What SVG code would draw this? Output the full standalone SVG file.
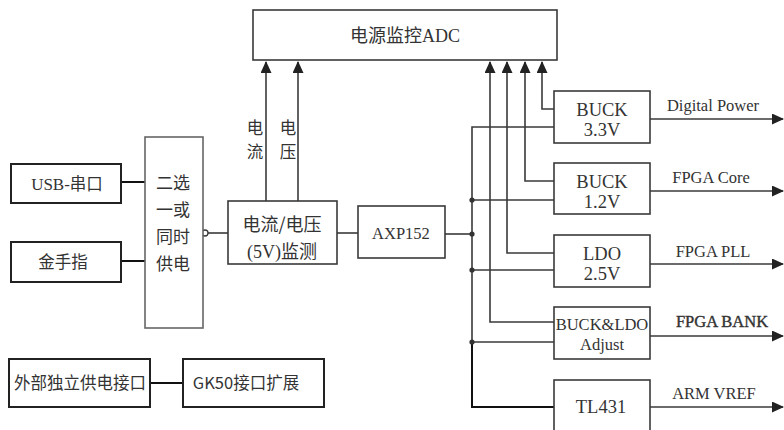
<svg xmlns="http://www.w3.org/2000/svg" width="784" height="430" viewBox="0 0 784 430">
<style>
.box{fill:#fff;stroke:#3a3a3a;stroke-width:1.6}
.gbox{fill:#fff;stroke:#666;stroke-width:1.6}
.kbox{fill:#fff;stroke:#222;stroke-width:2}
.ln{fill:none;stroke:#3a3a3a;stroke-width:1.6}
.kln{fill:none;stroke:#111;stroke-width:2}
.cn{font-family:"Noto Sans CJK SC","Noto Sans",sans-serif;font-size:16.5px;fill:#333;text-anchor:middle}
.en{font-family:"Liberation Serif","Times New Roman",serif;font-size:18.5px;fill:#333;text-anchor:middle}
.lab{font-family:"Liberation Serif","Times New Roman",serif;font-size:16.5px;fill:#333;text-anchor:middle}
.ser{font-family:"Liberation Serif","Times New Roman",serif}
.dot{fill:#333}
</style>
<defs>
<marker id="ah" viewBox="0 0 12 11" refX="11" refY="5.5" markerWidth="12" markerHeight="11" markerUnits="userSpaceOnUse" orient="auto">
<path d="M0,0 L12,5.5 L0,11 Z" fill="#222"/>
</marker>
</defs>

<g id="connectors">
<line class="kln" x1="121" y1="182" x2="145" y2="182"/>
<line class="kln" x1="121" y1="261" x2="145" y2="261"/>
<line class="kln" x1="150" y1="383" x2="183" y2="383"/>
<line class="ln" x1="208" y1="233" x2="228" y2="233"/>
<circle cx="205" cy="233" r="3" fill="#fff" stroke="#3a3a3a" stroke-width="1.3"/>
<line class="ln" x1="337" y1="233" x2="358" y2="233"/>
<line class="ln" x1="445" y1="234" x2="472" y2="234"/>
<line class="ln" x1="266" y1="201" x2="266" y2="62" marker-end="url(#ah)"/>
<line class="ln" x1="298" y1="201" x2="298" y2="62" marker-end="url(#ah)"/>
<path class="ln" d="M554,127 H472 V342"/>
<path class="kln" d="M472,342 V407 H554"/>
<line class="ln" x1="472" y1="200" x2="554" y2="200"/>
<line class="ln" x1="472" y1="270" x2="554" y2="270"/>
<line class="ln" x1="472" y1="342" x2="554" y2="342"/>
<circle class="dot" cx="472" cy="200" r="2.6"/>
<circle class="dot" cx="472" cy="234" r="2.6"/>
<circle class="dot" cx="472" cy="270" r="2.6"/>
<circle class="dot" cx="472" cy="342" r="2.6"/>
<path class="ln" d="M554,109 H542 V62" marker-end="url(#ah)"/>
<path class="ln" d="M554,181 H525 V62" marker-end="url(#ah)"/>
<path class="ln" d="M554,253 H507 V62" marker-end="url(#ah)"/>
<path class="ln" d="M554,322 H490 V62" marker-end="url(#ah)"/>
<line class="ln" x1="650" y1="119" x2="783" y2="119" marker-end="url(#ah)"/>
<line class="ln" x1="650" y1="191" x2="783" y2="191" marker-end="url(#ah)"/>
<line class="ln" x1="650" y1="264" x2="783" y2="264" marker-end="url(#ah)"/>
<line class="ln" x1="650" y1="336" x2="783" y2="336" marker-end="url(#ah)"/>
<line class="ln" x1="650" y1="407" x2="783" y2="407" marker-end="url(#ah)"/>
<text class="lab" x="713" y="111">Digital Power</text>
<text class="lab" x="711" y="183">FPGA Core</text>
<text class="lab" x="713" y="257">FPGA PLL</text>
<text class="lab" x="722" y="327" style="stroke:#333;stroke-width:0.4">FPGA BANK</text>
<text class="lab" x="714" y="399">ARM VREF</text>
<text class="cn" x="255" y="134">电</text>
<text class="cn" x="255" y="158">流</text>
<text class="cn" x="288" y="134">电</text>
<text class="cn" x="288" y="158">压</text>
</g>

<g id="adc">
<rect class="box" x="253" y="10" width="304" height="50"/>
<text x="405" y="42" class="cn" style="font-size:18px"><tspan>电源监控</tspan><tspan class="ser">ADC</tspan></text>
</g>

<g id="usb">
<rect class="kbox" x="11" y="164" width="110" height="39"/>
<text x="67" y="190" class="cn"><tspan class="ser" style="font-size:17px">USB-</tspan><tspan>串口</tspan></text>
</g>

<g id="goldfinger">
<rect class="kbox" x="11" y="242" width="110" height="40"/>
<text x="63" y="268" class="cn">金手指</text>
</g>

<g id="selector">
<rect class="gbox" x="145" y="137" width="58" height="191"/>
<text x="173" y="189" class="cn" style="font-size:17px">二选</text>
<text x="173" y="216" class="cn" style="font-size:17px">一或</text>
<text x="173" y="243" class="cn" style="font-size:17px">同时</text>
<text x="173" y="270" class="cn" style="font-size:17px">供电</text>
</g>

<g id="monitor">
<rect class="box" x="228" y="201" width="109" height="63"/>
<text x="282" y="231" class="cn" style="font-size:18px">电流/电压</text>
<text x="282" y="258" class="cn" style="font-size:18px"><tspan class="ser">(5V)</tspan><tspan>监测</tspan></text>
</g>

<g id="axp152">
<rect class="box" x="358" y="206" width="87" height="52"/>
<text x="401" y="239" class="en" style="font-size:16.5px">AXP152</text>
</g>

<g id="buck33">
<rect class="box" x="554" y="91" width="96" height="52"/>
<text x="602" y="116" class="en">BUCK</text>
<text x="602" y="136" class="en">3.3V</text>
</g>

<g id="buck12">
<rect class="box" x="554" y="163" width="96" height="51"/>
<text x="602" y="188" class="en">BUCK</text>
<text x="602" y="208" class="en">1.2V</text>
</g>

<g id="ldo25">
<rect class="box" x="554" y="235" width="96" height="52"/>
<text x="602" y="260" class="en">LDO</text>
<text x="602" y="280" class="en">2.5V</text>
</g>

<g id="buckldo">
<rect class="box" x="554" y="307" width="96" height="52"/>
<text x="602" y="330" class="en" style="font-size:16.5px">BUCK&amp;LDO</text>
<text x="602" y="350" class="en" style="font-size:16.5px">Adjust</text>
</g>

<g id="tl431">
<rect class="box" x="554" y="380" width="96" height="60"/>
<text x="601" y="413" class="en">TL431</text>
</g>

<g id="extpower">
<rect class="kbox" x="9" y="359" width="141" height="48"/>
<text x="80" y="389" class="cn">外部独立供电接口</text>
</g>

<g id="gk50">
<rect class="kbox" x="183" y="359" width="141" height="48"/>
<text x="246" y="389" class="cn">GK50接口扩展</text>
</g>
</svg>
